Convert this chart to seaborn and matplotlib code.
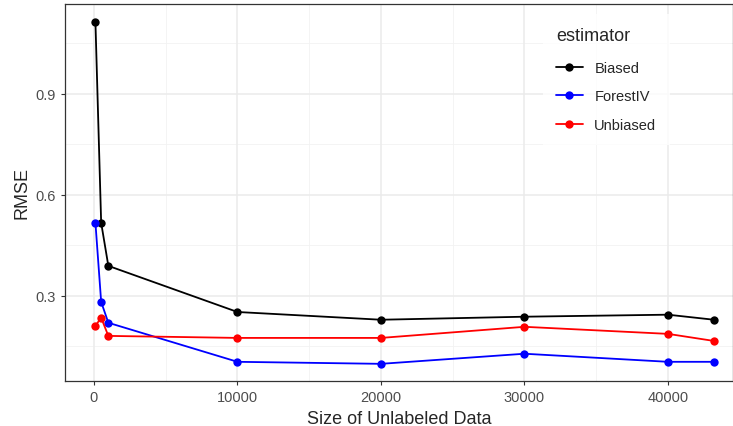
import matplotlib
matplotlib.use("Agg")
import matplotlib.pyplot as plt
import seaborn as sns
import pandas as pd

# sizes of unlabeled data
sizes = [100, 500, 1000, 10000, 20000, 30000, 40000, 43200]
biased = [1.114, 0.517, 0.389, 0.252, 0.229, 0.238, 0.244, 0.229]
forestiv = [0.517, 0.282, 0.220, 0.104, 0.098, 0.128, 0.104, 0.104]
unbiased = [0.211, 0.235, 0.181, 0.175, 0.175, 0.208, 0.187, 0.166]

df = pd.DataFrame({
    "size": sizes * 3,
    "rmse": biased + forestiv + unbiased,
    "estimator": ["Biased"] * 8 + ["ForestIV"] * 8 + ["Unbiased"] * 8,
})

sns.set_style("white")
plt.rcParams["font.family"] = ["Liberation Sans", "DejaVu Sans"]

fig = plt.figure(figsize=(7.33, 4.27), dpi=100)
ax = fig.add_axes([65 / 733, 45 / 427, 668 / 733, 377 / 427])

# ggplot-style grid
for v in [0.15, 0.45, 0.75, 1.05]:
    ax.axhline(v, color="#f2f2f2", lw=0.6, zorder=0)
for v in [5000, 15000, 25000, 35000]:
    ax.axvline(v, color="#f2f2f2", lw=0.6, zorder=0)
for v in [0.3, 0.6, 0.9]:
    ax.axhline(v, color="#ebebeb", lw=1.1, zorder=0)
for v in [0, 10000, 20000, 30000, 40000]:
    ax.axvline(v, color="#ebebeb", lw=1.1, zorder=0)

sns.lineplot(data=df, x="size", y="rmse", hue="estimator",
             palette={"Biased": "black", "ForestIV": "blue", "Unbiased": "red"},
             marker="o", markersize=6, markeredgewidth=0, lw=1.3, ax=ax)

ax.set_xlim(-2020, 44530)
ax.set_ylim(0.047, 1.167)
ax.set_xticks([0, 10000, 20000, 30000, 40000])
ax.set_yticks([0.3, 0.6, 0.9])
ax.tick_params(axis="both", labelsize=10.5, labelcolor="#4d4d4d", length=3,
               color="#333333", width=0.8, direction="out", left=True, bottom=True)
ax.set_xlabel("Size of Unlabeled Data", fontsize=13)
ax.set_ylabel("RMSE", fontsize=13)
for s in ax.spines.values():
    s.set_color("#333333")
    s.set_linewidth(0.9)

leg = ax.legend(title="estimator", loc="upper left", bbox_to_anchor=(0.705, 0.993),
                frameon=True, fontsize=10.5, title_fontsize=13, handlelength=1.8,
                labelspacing=1.0, borderpad=0.9, edgecolor="white", fancybox=False)
leg.get_frame().set_linewidth(0)
leg._legend_box.align = "left"
leg._legend_box.sep = 12

fig.savefig("out.png", dpi=100)
